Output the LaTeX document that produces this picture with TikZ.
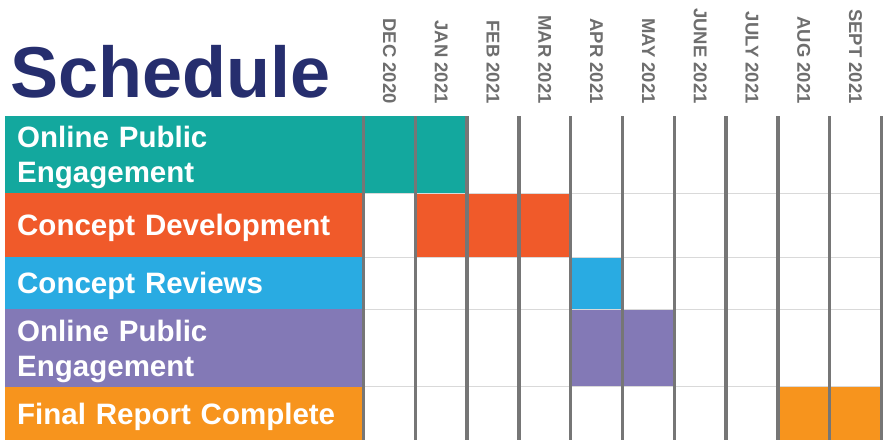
\documentclass[tikz,border=0pt]{standalone}
\usepackage{fontspec}
\setmainfont{Liberation Sans}
\definecolor{navy}{HTML}{262E6E}
\definecolor{engageteal}{HTML}{13A89E}
\definecolor{devred}{HTML}{F05A2A}
\definecolor{reviewblue}{HTML}{29ABE2}
\definecolor{engagepurple}{HTML}{8379B6}
\definecolor{reportorange}{HTML}{F7941D}
\definecolor{gridgray}{HTML}{767676}
\definecolor{monthgray}{HTML}{6E6E6E}
\tikzset{month/.style={rotate=-90, anchor=east, inner sep=0pt, text=monthgray, font=\bfseries\fontsize{18.5}{18.5}\selectfont}}
\tikzset{tasklabel/.style={anchor=north west, inner xsep=12pt, inner ysep=0pt, text depth=0pt, text width=334.5pt, align=left, text=white, font=\bfseries\fontsize{29.5}{35}\selectfont}}
\tikzset{twolines/.style={text depth=35pt}}
\tikzset{gridline/.style={gridgray, line width=3.5pt}}
\tikzset{rowline/.style={black!15, line width=0.6pt}}
% bar from column #3 to column #4, between y=#1 and y=#2
\newcommand{\ganttbar}[5]{%
	\fill[#5] ({363.5+51.8*#3},#1) rectangle ({363.5+51.8*#4},#2);
}

\begin{document}
\begin{tikzpicture}[x=1pt, y=-1pt]
	\useasboundingbox (0,0) rectangle (887,440);
	
	% Title
	\node[anchor=base west, inner sep=0pt, text=navy, font=\bfseries\fontsize{72}{72}\selectfont] (title) at (10,97) {Schedule};
	
	% Months
	\foreach \m [count=\i from 0] in {DEC 2020, JAN 2021, FEB 2021, MAR 2021, APR 2021, MAY 2021, JUNE 2021, JULY 2021, AUG 2021, SEPT 2021}
	{
		\node[month] (m\i) at ({389.4+51.8*\i},104) {\m};
	}
	
	% Task Labels
	\node[tasklabel, twolines, fill=engageteal, minimum height=77pt] (engage1) at (5,116) {Online Public\\Engagement};
	\node[tasklabel, fill=devred, minimum height=64pt] (develop) at (5,193) {Concept Development};
	\node[tasklabel, fill=reviewblue, minimum height=52pt] (review) at (5,257) {Concept Reviews};
	\node[tasklabel, twolines, fill=engagepurple, minimum height=77.5pt] (engage2) at (5,309) {Online Public\\Engagement};
	\node[tasklabel, fill=reportorange, minimum height=53.5pt] (report) at (5,386.5) {Final Report Complete};
	
	% Bars
	\ganttbar{116}{193}{0}{2}{engageteal}
	\ganttbar{193}{257}{1}{4}{devred}
	\ganttbar{257}{309}{4}{5}{reviewblue}
	\ganttbar{309}{386.5}{4}{6}{engagepurple}
	\ganttbar{386.5}{440}{8}{10}{reportorange}
	
	% Row Lines
	\foreach \y in {193,257,309,386.5}
	{
		\draw[rowline] (363.5,\y) -- (881.5,\y);
	}
	
	% Grid Lines
	\foreach \i in {0,...,10}
	{
		\draw[gridline] ({363.5+51.8*\i},116) -- ({363.5+51.8*\i},440);
	}
\end{tikzpicture}
\end{document}
